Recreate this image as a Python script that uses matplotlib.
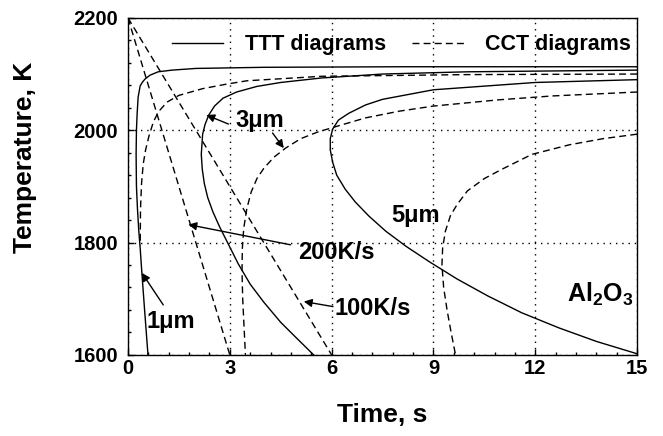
import matplotlib
matplotlib.use('Agg')
import matplotlib.pyplot as plt
from matplotlib.ticker import MultipleLocator

plt.rcParams['font.family'] = ['Liberation Sans', 'DejaVu Sans']
plt.rcParams['font.weight'] = 'bold'
plt.rcParams['mathtext.fontset'] = 'custom'
plt.rcParams['mathtext.bf'] = 'Liberation Sans:bold'
plt.rcParams['mathtext.rm'] = 'Liberation Sans:bold'

# TTT diagrams (solid), time in s / temperature in K
ttt1_t = [15, 8, 4, 2, 1.3, 0.89, 0.65, 0.5, 0.42, 0.36, 0.3, 0.27, 0.25, 0.24, 0.25, 0.28, 0.32, 0.36, 0.41, 0.49, 0.59]
ttt1_T = [2113, 2113, 2112, 2110, 2107, 2104, 2098, 2091, 2085, 2079, 2059, 2029, 2000, 1957, 1900, 1860, 1820, 1790, 1746, 1680, 1600]

ttt3_t = [15, 10, 7.5, 5.7, 4.5, 3.8, 3.2, 2.8, 2.55, 2.38, 2.27, 2.2, 2.16, 2.19, 2.25, 2.35, 2.5, 2.7, 2.95, 3.25, 3.6, 4.0, 4.5, 5.0, 5.47]
ttt3_T = [2107, 2104, 2100, 2093, 2085, 2078, 2068, 2057, 2043, 2027, 2010, 1993, 1957, 1930, 1905, 1880, 1855, 1828, 1798, 1762, 1726, 1694, 1658, 1628, 1600]

ttt5_t = [15, 12, 9, 7.5, 7.0, 6.5, 6.2, 6.03, 5.96, 5.96, 6.03, 6.15, 6.4, 6.7, 7.1, 7.6, 8.2, 8.9, 9.7, 10.6, 11.6, 12.7, 13.8, 15]
ttt5_T = [2090, 2085, 2072, 2055, 2045, 2030, 2018, 2002, 1985, 1965, 1943, 1920, 1895, 1872, 1847, 1820, 1793, 1765, 1735, 1705, 1675, 1648, 1624, 1602]

# CCT diagrams (dashed)
cct1_t = [15, 10, 5.7, 3.5, 2.9, 2.2, 1.5, 1.15, 0.9, 0.75, 0.62, 0.52, 0.45, 0.4, 0.37, 0.36]
cct1_T = [2100, 2099, 2096, 2088, 2082, 2074, 2062, 2050, 2033, 2015, 1990, 1965, 1940, 1905, 1860, 1795]

cct3_t = [15, 12.5, 10.9, 9.0, 8.0, 7.0, 6.1, 5.6, 5.09, 4.64, 4.3, 4.0, 3.8, 3.63, 3.5, 3.41, 3.37, 3.36, 3.38, 3.42, 3.46]
cct3_T = [2068, 2061, 2054, 2043, 2034, 2022, 2006, 1997, 1985, 1968, 1952, 1932, 1914, 1890, 1860, 1825, 1790, 1750, 1700, 1650, 1600]

cct5_t = [15, 14, 13, 11.9, 11.0, 10.5, 10.0, 9.7, 9.5, 9.35, 9.27, 9.25, 9.3, 9.4, 9.52, 9.65]
cct5_T = [1993, 1985, 1974, 1957, 1930, 1914, 1892, 1868, 1848, 1820, 1790, 1760, 1720, 1680, 1640, 1600]

# cooling lines
cool200_t = [0, 3]
cool100_t = [0, 6]
cool_T = [2200, 1600]

fig = plt.figure(figsize=(6.63, 4.36), dpi=100)
ax = fig.add_axes([0.193, 0.186, 0.768, 0.773])

dash = (5, 3)
ax.plot(ttt1_t, ttt1_T, color='black', lw=1.0, label='TTT diagrams')
ax.plot(ttt3_t, ttt3_T, color='black', lw=1.0)
ax.plot(ttt5_t, ttt5_T, color='black', lw=1.0)
ax.plot(cct1_t, cct1_T, color='black', lw=1.0, dashes=dash, label='CCT diagrams')
ax.plot(cct3_t, cct3_T, color='black', lw=1.0, dashes=dash)
ax.plot(cct5_t, cct5_T, color='black', lw=1.0, dashes=dash)
ax.plot(cool200_t, cool_T, color='black', lw=1.0, dashes=dash)
ax.plot(cool100_t, cool_T, color='black', lw=1.0, dashes=dash)

# axes
ax.set_xlim(0, 15)
ax.set_ylim(1600, 2200)
ax.xaxis.set_major_locator(MultipleLocator(3))
ax.xaxis.set_minor_locator(MultipleLocator(0.6))
ax.yaxis.set_major_locator(MultipleLocator(200))
ax.yaxis.set_minor_locator(MultipleLocator(40))
ax.tick_params(which='both', direction='in', labelsize=14.5, width=1.0)
ax.tick_params(which='major', length=4)
ax.tick_params(which='minor', length=2.5)
ax.tick_params(axis='x', pad=3)
ax.tick_params(axis='y', pad=7)
for s in ax.spines.values():
    s.set_linewidth(1.0)
ax.grid(True, which='major', color='black', lw=1.0, linestyle=(0, (1, 3.5)))

ax.set_xlabel('Time, s', fontsize=19, fontweight='bold')
ax.set_ylabel('Temperature, K', fontsize=19, fontweight='bold')
ax.xaxis.set_label_coords(0.5, -0.142)
ax.yaxis.set_label_coords(-0.179, 0.585)

ax.legend(loc='center left', bbox_to_anchor=(0.086, 0.92), ncol=2, frameon=False,
          fontsize=15.5, handlelength=2.4, handletextpad=1.0, columnspacing=1.2,
          borderpad=0, borderaxespad=0)

# labels and arrows
arrow = dict(arrowstyle='-|>', color='black', lw=1.0, mutation_scale=12, shrinkA=0, shrinkB=0)
ax.text(3.17, 2005, '3\u03bcm', fontsize=17, ha='left', va='baseline')
ax.annotate('', xy=(2.31, 2027), xytext=(2.96, 2011), arrowprops=arrow)
ax.annotate('', xy=(4.59, 1968), xytext=(4.26, 1995), arrowprops=arrow)
ax.text(7.75, 1837, '5\u03bcm', fontsize=17, ha='left', va='baseline')
ax.text(5.0, 1770, '200K/s', fontsize=17, ha='left', va='baseline')
ax.annotate('', xy=(1.78, 1832), xytext=(4.79, 1796), arrowprops=arrow)
ax.text(6.07, 1671, '100K/s', fontsize=17, ha='left', va='baseline')
ax.annotate('', xy=(5.18, 1695), xytext=(6.04, 1686), arrowprops=arrow)
ax.text(0.56, 1648, '1\u03bcm', fontsize=17, ha='left', va='baseline')
ax.annotate('', xy=(0.41, 1746), xytext=(1.04, 1689), arrowprops=arrow)
ax.text(14.9, 1695, r'$\mathbf{Al_2O_3}$', fontsize=18, ha='right', va='baseline')

fig.savefig('out.png', dpi=100)
